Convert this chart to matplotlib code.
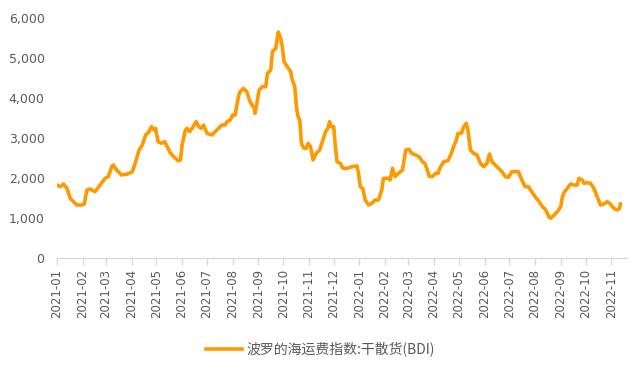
import matplotlib
matplotlib.use("Agg")
import matplotlib.pyplot as plt
import matplotlib.dates as mdates
from matplotlib.ticker import FuncFormatter
import pandas as pd

plt.rcParams['font.family'] = ['DejaVu Sans', 'Noto Sans CJK SC']

series_name = "波罗的海运费指数:干散货(BDI)"

dates = [
    "2021-01-01", "2021-01-05", "2021-01-09", "2021-01-13", "2021-01-17", "2021-01-21",
    "2021-01-25", "2021-01-31", "2021-02-03", "2021-02-06", "2021-02-10", "2021-02-16",
    "2021-02-22", "2021-02-28", "2021-03-04", "2021-03-08", "2021-03-10", "2021-03-14",
    "2021-03-20", "2021-03-27", "2021-04-02", "2021-04-06", "2021-04-10", "2021-04-14",
    "2021-04-18", "2021-04-22", "2021-04-25", "2021-04-28", "2021-04-30", "2021-05-03",
    "2021-05-07", "2021-05-11", "2021-05-14", "2021-05-18", "2021-05-22", "2021-05-27",
    "2021-05-30", "2021-06-01", "2021-06-05", "2021-06-07", "2021-06-10", "2021-06-13",
    "2021-06-18", "2021-06-21", "2021-06-24", "2021-06-27", "2021-07-01", "2021-07-07",
    "2021-07-11", "2021-07-15", "2021-07-19", "2021-07-23", "2021-07-25", "2021-07-29",
    "2021-08-01", "2021-08-04", "2021-08-08", "2021-08-10", "2021-08-14", "2021-08-18",
    "2021-08-22", "2021-08-27", "2021-08-28", "2021-08-31", "2021-09-02", "2021-09-06",
    "2021-09-10", "2021-09-12", "2021-09-16", "2021-09-18", "2021-09-22", "2021-09-25",
    "2021-09-28", "2021-09-30", "2021-10-02", "2021-10-06", "2021-10-10", "2021-10-12",
    "2021-10-15", "2021-10-17", "2021-10-19", "2021-10-21", "2021-10-23", "2021-10-26",
    "2021-10-29", "2021-10-31", "2021-11-03", "2021-11-06", "2021-11-10", "2021-11-14",
    "2021-11-18", "2021-11-21", "2021-11-24", "2021-11-26", "2021-11-28", "2021-12-01",
    "2021-12-03", "2021-12-05", "2021-12-09", "2021-12-12", "2021-12-17", "2021-12-23",
    "2021-12-29", "2021-12-31", "2022-01-02", "2022-01-05", "2022-01-08", "2022-01-12",
    "2022-01-16", "2022-01-20", "2022-01-24", "2022-01-28", "2022-01-30", "2022-02-05",
    "2022-02-07", "2022-02-10", "2022-02-13", "2022-02-17", "2022-02-22", "2022-02-26",
    "2022-03-02", "2022-03-05", "2022-03-10", "2022-03-14", "2022-03-18", "2022-03-21",
    "2022-03-24", "2022-03-26", "2022-03-30", "2022-04-03", "2022-04-06", "2022-04-09",
    "2022-04-13", "2022-04-18", "2022-04-22", "2022-04-25", "2022-04-28", "2022-04-30",
    "2022-05-04", "2022-05-07", "2022-05-10", "2022-05-12", "2022-05-15", "2022-05-19",
    "2022-05-23", "2022-05-27", "2022-05-31", "2022-06-04", "2022-06-07", "2022-06-10",
    "2022-06-14", "2022-06-18", "2022-06-22", "2022-06-26", "2022-06-30", "2022-07-04",
    "2022-07-08", "2022-07-12", "2022-07-16", "2022-07-20", "2022-07-24", "2022-07-28",
    "2022-08-01", "2022-08-06", "2022-08-10", "2022-08-14", "2022-08-18", "2022-08-20",
    "2022-08-24", "2022-08-28", "2022-09-01", "2022-09-03", "2022-09-05", "2022-09-09",
    "2022-09-13", "2022-09-17", "2022-09-21", "2022-09-23", "2022-09-27", "2022-09-29",
    "2022-10-03", "2022-10-07", "2022-10-11", "2022-10-15", "2022-10-19", "2022-10-23",
    "2022-10-27", "2022-10-31", "2022-11-04", "2022-11-08", "2022-11-11", "2022-11-12",
]

bdi = [
    1825, 1783, 1850, 1742, 1492, 1408,
    1325, 1325, 1350, 1700, 1725, 1658,
    1825, 1992, 2033, 2283, 2325, 2200,
    2075, 2100, 2158, 2408, 2700, 2825,
    3075, 3158, 3283, 3200, 3242, 2908,
    2867, 2908, 2783, 2617, 2533, 2433,
    2450, 2825, 3200, 3242, 3158, 3242,
    3408, 3283, 3242, 3325, 3117, 3075,
    3158, 3242, 3325, 3325, 3408, 3450,
    3575, 3575, 4033, 4158, 4242, 4158,
    3908, 3742, 3617, 3950, 4200, 4283,
    4283, 4617, 4700, 5158, 5242, 5650,
    5492, 5283, 4908, 4783, 4658, 4450,
    4283, 3783, 3533, 3450, 2867, 2742,
    2742, 2867, 2783, 2450, 2617, 2700,
    2950, 3158, 3242, 3408, 3283, 3283,
    2783, 2408, 2367, 2242, 2242, 2283,
    2300, 2117, 1783, 1742, 1450, 1325,
    1367, 1450, 1450, 1700, 1992, 1992,
    1950, 2242, 2033, 2117, 2200, 2700,
    2717, 2617, 2575, 2533, 2408, 2367,
    2200, 2050, 2033, 2117, 2117, 2283,
    2408, 2433, 2617, 2800, 2950, 3117,
    3117, 3283, 3367, 3200, 2700, 2617,
    2575, 2367, 2283, 2367, 2600, 2408,
    2325, 2242, 2158, 2033, 2017, 2158,
    2158, 2158, 1950, 1783, 1783, 1658,
    1533, 1408, 1283, 1200, 1017, 992,
    1075, 1158, 1283, 1533, 1633, 1742,
    1850, 1825, 1825, 1992, 1950, 1867,
    1883, 1867, 1742, 1533, 1325, 1350,
    1408, 1350, 1242, 1200, 1242, 1350,
]

x_start = "2021-01-01"
x_end = "2022-11-20"
tick_months = pd.date_range("2021-01-01", "2022-11-01", freq="MS")

x = pd.to_datetime(dates)

fig = plt.figure(figsize=(6.4, 3.73), dpi=100)
ax = fig.add_axes([57/640, 1 - 258/373, (627 - 57)/640, (258 - 18)/373])

line, = ax.plot(x, bdi, color="#FF9900", linewidth=2.6, solid_joinstyle="round",
                label=series_name)

ax.set_ylim(0, 6000)
ax.set_yticks(range(0, 6001, 1000))
ax.yaxis.set_major_formatter(FuncFormatter(lambda v, p: f"{int(v):,}"))
ax.set_xlim(pd.Timestamp(x_start), pd.Timestamp(x_end))
ax.set_xticks(tick_months)
ax.xaxis.set_major_formatter(mdates.DateFormatter("%Y-%m"))

for s in ["top", "right", "left"]:
    ax.spines[s].set_visible(False)
ax.spines["bottom"].set_color("#D9D9D9")
ax.spines["bottom"].set_linewidth(1.0)

ax.tick_params(axis="y", length=0, pad=9, labelsize=9, labelcolor="#595959")
ax.tick_params(axis="x", length=5, width=1.0, color="#D9D9D9", pad=3,
               labelsize=8.5, labelcolor="#595959", labelrotation=90)

leg = fig.legend(handles=[line], loc="center", bbox_to_anchor=(0.5, 1 - 349/373),
                 frameon=False, fontsize=10, handlelength=2.6, handletextpad=0.3,
                 prop={"family": ["Noto Sans CJK SC", "DejaVu Sans"], "size": 10})
for t in leg.get_texts():
    t.set_color("#595959")

fig.savefig("out.png", dpi=100)
